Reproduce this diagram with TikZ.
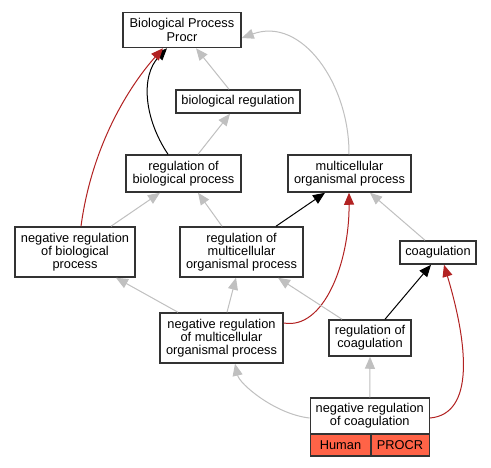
\documentclass[tikz,border=0pt]{standalone}
\usepackage{fontspec}
\setmainfont{Liberation Sans}
\usetikzlibrary{arrows.meta,calc}
\definecolor{edgegray}{HTML}{C0C0C0}
\definecolor{edgered}{HTML}{B22222}
\definecolor{boxline}{HTML}{333333}
\definecolor{tomatofill}{HTML}{FF6347}
\begin{document}
\begin{tikzpicture}[x=1pt,y=-1pt,
  term/.style={draw=boxline,line width=1.5pt,fill=white,align=center,inner sep=0pt,
    font=\fontsize{12.8pt}{13.3pt}\selectfont},
  cell/.style={draw=boxline,line width=1.5pt,fill=tomatofill,inner sep=0pt,
    font=\fontsize{12.8pt}{13.3pt}\selectfont},
  tip/.style={-{Triangle[length=12pt,width=10pt]}},
  grayedge/.style={tip,draw=edgegray,line width=1pt},
  rededge/.style={tip,draw=edgered,line width=1pt},
  blackedge/.style={tip,draw=black,line width=1pt}]
\useasboundingbox (0,0) rectangle (491,467);
\fill[white] (0,0) rectangle (491,467);

\node[term,minimum width=118pt,minimum height=35pt] (bp) at (182,30) {Biological Process\\Procr};
\node[term,minimum width=124pt,minimum height=23pt] (breg) at (238,101.5) {biological regulation};
\node[term,minimum width=115pt,minimum height=37pt] (rbp) at (183.5,173.5) {regulation of\\biological process};
\node[term,minimum width=123pt,minimum height=37pt] (mop) at (349.5,173.5) {multicellular\\organismal process};
\node[term,minimum width=120pt,minimum height=50pt] (nrbp) at (75,252) {negative regulation\\of biological\\process};
\node[term,minimum width=123pt,minimum height=50pt] (rmop) at (241.5,252) {regulation of\\multicellular\\organismal process};
\node[term,minimum width=76pt,minimum height=23pt] (coag) at (438,252.5) {coagulation};
\node[term,minimum width=123pt,minimum height=50pt] (nrmop) at (221.5,338) {negative regulation\\of multicellular\\organismal process};
\node[term,minimum width=82pt,minimum height=36pt] (rcoag) at (370,338) {regulation of\\coagulation};
\node[term,minimum width=119pt,minimum height=36pt] (nrc) at (369.75,416) {negative regulation\\of coagulation};
\node[cell,minimum width=60.5pt,minimum height=22pt] (human) at (340.5,445) {Human};
\node[cell,minimum width=58.5pt,minimum height=22pt] (procr) at (400,445) {PROCR};

% edges
\draw[grayedge] ([xshift=-9pt]breg.north) -- ([xshift=14pt]bp.south);
\draw[grayedge] ([xshift=-0.5pt]mop.north) .. controls ($(mop.north)+(0,-70)$) and ($(bp.east)+(60,-14)$) .. ([yshift=-8pt]bp.east);
\draw[blackedge] ([xshift=-15.5pt]rbp.north) .. controls ($(rbp.north)+(-39,-35)$) and ($(bp.south)+(-42,28)$) .. ([xshift=-15pt]bp.south);
\draw[rededge] ([xshift=6pt]nrbp.north) .. controls ($(nrbp.north)+(17,-82)$) and ($(bp.south)+(-52,37)$) .. ([xshift=-19pt]bp.south);
\draw[grayedge] ([xshift=14.5pt]rbp.north) -- ([xshift=-8pt]breg.south);
\draw[grayedge] ([xshift=36pt]nrbp.north) -- ([xshift=-23.5pt]rbp.south);
\draw[grayedge] ([xshift=-19.5pt]rmop.north) -- ([xshift=14.5pt]rbp.south);
\draw[blackedge] ([xshift=34.5pt]rmop.north) -- ([xshift=-24.5pt]mop.south);
\draw[grayedge] ([xshift=-13pt]coag.north) -- ([xshift=20.5pt]mop.south);
\draw[rededge] ([yshift=15pt]nrmop.east) .. controls ($(nrmop.east)+(40,-8)$) and ($(mop.south)+(0,70)$) .. ([xshift=-0.5pt]mop.south);
\draw[grayedge] ([xshift=-43.5pt]nrmop.north) -- ([xshift=41pt]nrbp.south);
\draw[grayedge] ([xshift=5.5pt]nrmop.north) -- ([xshift=-5.5pt]rmop.south);
\draw[grayedge] ([xshift=-28pt]rcoag.north) -- ([xshift=36.5pt]rmop.south);
\draw[blackedge] ([xshift=15pt]rcoag.north) -- ([xshift=-7pt]coag.south);
\draw[grayedge] (nrc.north) -- (rcoag.south);
\draw[grayedge] ([yshift=-2pt]nrc.west) .. controls ($(nrc.west)+(-35,-2)$) and ($(nrmop.south)+(18,20)$) .. ([xshift=13.5pt]nrmop.south);
\draw[rededge] ([yshift=-2pt]nrc.east) .. controls ($(nrc.east)+(45,-2)$) and ($(coag.south)+(30,80)$) .. ([xshift=6pt]coag.south);
\end{tikzpicture}
\end{document}
